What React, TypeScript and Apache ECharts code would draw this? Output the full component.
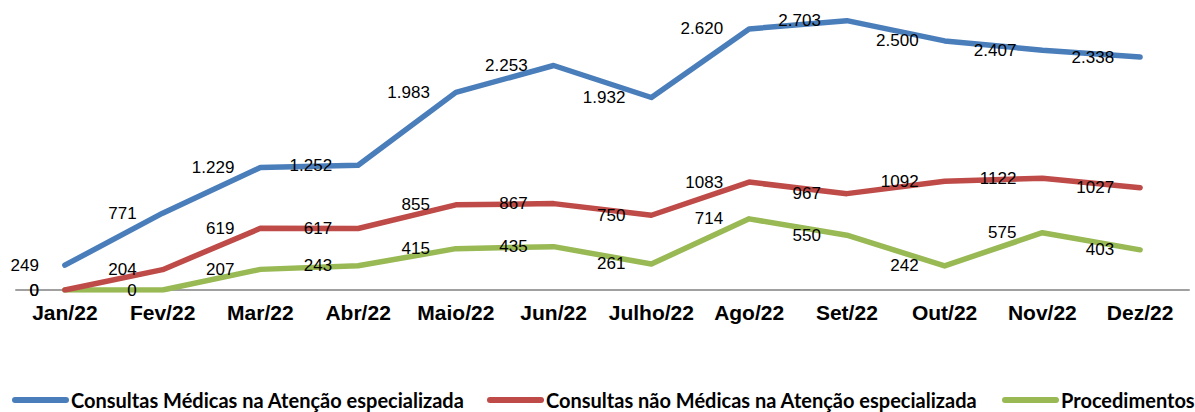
import React, { useEffect, useRef } from "react";
import * as echarts from "echarts";

const categories = ["Jan/22", "Fev/22", "Mar/22", "Abr/22", "Maio/22", "Jun/22", "Julho/22", "Ago/22", "Set/22", "Out/22", "Nov/22", "Dez/22"];
const seriesNames = [
  "Consultas Médicas na Atenção especializada",
  "Consultas não Médicas na Atenção especializada",
  "Procedimentos",
];
const medicas = [249, 771, 1229, 1252, 1983, 2253, 1932, 2620, 2703, 2500, 2407, 2338];
const naoMedicas = [0, 204, 619, 617, 855, 867, 750, 1083, 967, 1092, 1122, 1027];
const procedimentos = [0, 0, 207, 243, 415, 435, 261, 714, 550, 242, 575, 403];

const colors = ["#4A7EBB", "#BE4B48", "#98B954"];
const legendLefts = [12, 487, 1002];

const dotThousands = (v: number) => String(v).replace(/\B(?=(\d{3})+(?!\d))/g, ".");

export default function App() {
  const ref = useRef<HTMLDivElement>(null);
  useEffect(() => {
    if (!ref.current) return;
    const chart = echarts.init(ref.current, null, { renderer: "svg" });
    const dataSets = [medicas, naoMedicas, procedimentos];
    const formatters = [
      (p: any) => dotThousands(p.value),
      (p: any) => String(p.value),
      (p: any) => String(p.value),
    ];
    chart.setOption({
      animation: false,
      backgroundColor: "#ffffff",
      grid: { left: 16, right: 6, top: 11, bottom: 122, containLabel: false },
      xAxis: {
        type: "category",
        data: categories,
        boundaryGap: true,
        axisLine: { show: true, lineStyle: { color: "#A0A0A0", width: 2 } },
        axisTick: { show: false },
        axisLabel: {
          interval: 0,
          margin: 12,
          color: "#000",
          fontSize: 21,
          fontWeight: "bold",
          fontFamily: "Liberation Sans, Arial, sans-serif",
        },
      },
      yAxis: {
        type: "value",
        min: 0,
        max: 2800,
        show: false,
        splitLine: { show: false },
      },
      legend: seriesNames.map((name, i) => ({
        data: [name],
        left: legendLefts[i],
        top: 390,
        itemWidth: 57,
        itemHeight: 6,
        itemGap: 2,
        padding: 0,
        icon: "path://M3,0 L54,0 A3,3 0 0 1 54,6 L3,6 A3,3 0 0 1 3,0 Z",
        itemStyle: { color: colors[i], opacity: 1 },
        textStyle: {
          color: "#000",
          fontSize: 20,
          lineHeight: 20,
          fontWeight: "bold",
          fontFamily: "Lato, sans-serif",
          padding: [0, 0, 0, -3],
        },
      })),
      series: dataSets.map((d, i) => ({
        name: seriesNames[i],
        type: "line",
        data: d,
        color: colors[i],
        showSymbol: true,
        symbol: "circle",
        symbolSize: 4,
        itemStyle: { color: colors[i] },
        lineStyle: { width: 5.5, color: colors[i], cap: "round", join: "round" },
        z: 3 - i,
        labelLayout: { hideOverlap: false },
        label: {
          show: true,
          position: "left",
          distance: 24,
          color: "#000",
          fontSize: 17,
          fontFamily: "Liberation Sans, Arial, sans-serif",
          formatter: formatters[i],
        },
      })),
    });
    return () => chart.dispose();
  }, []);
  return (
    <div
      ref={ref}
      style={{ position: "fixed", left: 0, top: 0, width: 1195, height: 412, background: "#fff" }}
    />
  );
}
